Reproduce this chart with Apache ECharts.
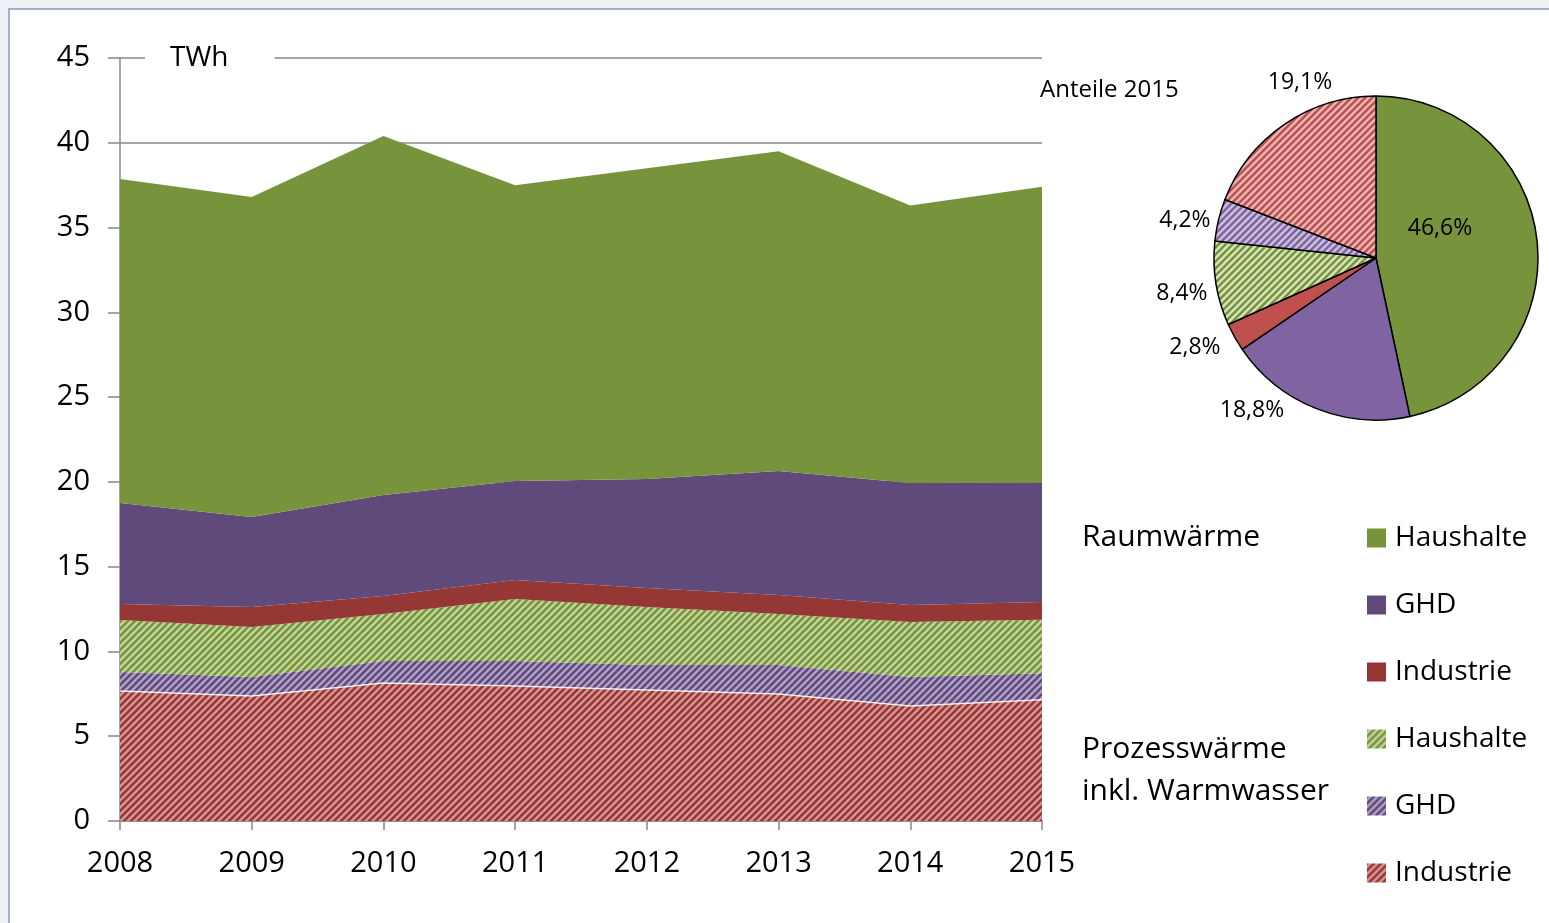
<!DOCTYPE html>
<html>
<head>
<meta charset="utf-8">
<script src="https://cdn.jsdelivr.net/npm/echarts@6/dist/echarts.min.js"></script>
<style>
html,body{margin:0;padding:0;background:#eef1f6;}
#chart{width:1549px;height:923px;}
</style>
</head>
<body>
<div id="chart"></div>
<script>
// ---- data ----
const years = ['2008','2009','2010','2011','2012','2013','2014','2015'];
const yTicks = [0, 5, 10, 15, 20, 25, 30, 35, 40, 45];
const prozessIndustrie = [7.67, 7.37, 8.14, 7.96, 7.73, 7.49, 6.78, 7.15];
const prozessGHD       = [1.12, 1.12, 1.30, 1.48, 1.47, 1.71, 1.71, 1.57];
const prozessHaushalte = [3.06, 2.95, 2.77, 3.65, 3.42, 3.01, 3.25, 3.15];
const raumIndustrie    = [0.95, 1.18, 1.06, 1.12, 1.12, 1.12, 1.00, 1.05];
const raumGHD          = [5.95, 5.31, 5.96, 5.84, 6.43, 7.31, 7.19, 7.04];
const raumHaushalte    = [19.11, 18.87, 21.17, 17.45, 18.33, 18.86, 16.37, 17.45];
const pieNames  = ['Haushalte (Raumwärme)', 'GHD (Raumwärme)', 'Industrie (Raumwärme)',
                   'Haushalte (Prozesswärme)', 'GHD (Prozesswärme)', 'Industrie (Prozesswärme)'];
const pieShares = [46.6, 18.8, 2.8, 8.4, 4.2, 19.1];

// ---- styles ----
const FONT = '"Open Sans", sans-serif';
function hatch(bg, fg) {
  const s = 7;
  const c = document.createElement('canvas');
  c.width = s; c.height = s;
  const g = c.getContext('2d');
  g.fillStyle = bg; g.fillRect(0, 0, s, s);
  g.strokeStyle = fg; g.lineWidth = 2.6;
  g.beginPath();
  g.moveTo(-1, s + 1); g.lineTo(s + 1, -1);
  g.moveTo(-s / 2 - 1, s / 2 + 1); g.lineTo(s / 2 + 1, -s / 2 - 1);
  g.moveTo(s / 2 - 1, s * 1.5 + 1); g.lineTo(s * 1.5 + 1, s / 2 - 1);
  g.stroke();
  return { image: c, repeat: 'repeat' };
}
const C = {
  rHH: '#77933C', rGHD: '#604A7B', rInd: '#953735',
  pHH: hatch('#C3D69B', '#77933C'),
  pGHD: hatch('#B3A2C7', '#604A7B'),
  pInd: hatch('#D99694', '#953735')
};
const PC = [
  '#77933C', '#8064A2', '#C0504D',
  hatch('#D7E4BD', '#77933C'),
  hatch('#CCC1DA', '#8064A2'),
  hatch('#E6B9B8', '#C0504D')
];
const pieLabelPos = [[1440, 228], [1252, 410], [1195, 347], [1182, 293], [1185, 220], [1300, 82]];

function areaSeries(name, data, color, line) {
  return {
    name: name, type: 'line', stack: 'total', data: data,
    showSymbol: false, symbol: 'none',
    lineStyle: line || { width: 0 },
    areaStyle: { color: color, opacity: 1 },
    itemStyle: { color: color },
    emphasis: { disabled: true },
    z: 2
  };
}

const chart = echarts.init(document.getElementById('chart'), null, { renderer: 'canvas' });
chart.setOption({
  backgroundColor: '#eef1f6',
  animation: false,
  textStyle: { fontFamily: FONT },
  graphic: [
    { type: 'rect', z: -10, shape: { x: 9, y: 9, width: 1560, height: 940 },
      style: { fill: '#ffffff', stroke: '#9fb0c8', lineWidth: 2 } },
    { type: 'text', left: 1082, top: 522, z: 10,
      style: { text: 'Raumwärme', font: '30px ' + FONT, fill: '#000' } },
    { type: 'text', left: 1082, top: 728, z: 10,
      style: { text: 'Prozesswärme\ninkl. Warmwasser', font: '30px ' + FONT, fill: '#000', lineHeight: 42 } },
    { type: 'text', left: 1040, top: 78, z: 10,
      style: { text: 'Anteile 2015', font: '24px ' + FONT, fill: '#000' } }
  ],
  grid: { left: 120, right: 507, top: 58, bottom: 102, containLabel: false },
  xAxis: {
    type: 'category', data: years, boundaryGap: false,
    axisLine: { lineStyle: { color: '#888', width: 1.5 } },
    axisTick: { show: true, alignWithLabel: true, length: 9, lineStyle: { color: '#888', width: 1.5 } },
    axisLabel: { color: '#000', fontSize: 29, fontFamily: FONT, margin: 28 },
    splitLine: { show: false }
  },
  yAxis: {
    type: 'value', min: 0, max: 45, interval: 5,
    name: '{gap|}{b|TWh}',
    nameLocation: 'end', nameGap: 0,
    nameTextStyle: {
      align: 'left', verticalAlign: 'middle',
      rich: {
        gap: { width: 25 },
        b: { backgroundColor: '#fff', padding: [6, 46, 6, 25], fontSize: 28, fontFamily: FONT, color: '#000' }
      }
    },
    axisLine: { show: true, lineStyle: { color: '#888', width: 1.5 } },
    axisTick: { show: true, length: 12, lineStyle: { color: '#888', width: 1.5 } },
    axisLabel: { color: '#000', fontSize: 29, fontFamily: FONT, margin: 30,
      formatter: function (v) { return yTicks.indexOf(v) >= 0 ? String(v) : ''; } },
    splitLine: { show: true, lineStyle: { color: '#888', width: 1.5 } }
  },
  legend: {
    orient: 'vertical', left: 1362, top: 519,
    itemWidth: 19, itemHeight: 19, itemGap: 39,
    icon: 'rect',
    textStyle: { fontSize: 28, fontFamily: FONT, color: '#000', lineHeight: 28, padding: [0, 0, 0, 4] },
    formatter: function (n) { return n.split(' (')[0]; },
    data: [
      { name: 'Haushalte (Raumwärme)', itemStyle: { color: C.rHH } },
      { name: 'GHD (Raumwärme)', itemStyle: { color: C.rGHD } },
      { name: 'Industrie (Raumwärme)', itemStyle: { color: C.rInd } },
      { name: 'Haushalte (Prozesswärme)', itemStyle: { color: C.pHH } },
      { name: 'GHD (Prozesswärme)', itemStyle: { color: C.pGHD } },
      { name: 'Industrie (Prozesswärme)', itemStyle: { color: C.pInd } }
    ],
    selectedMode: false
  },
  series: [
    areaSeries('Industrie (Prozesswärme)', prozessIndustrie, C.pInd, { width: 1.5, color: 'rgba(255,255,255,0.85)' }),
    areaSeries('GHD (Prozesswärme)', prozessGHD, C.pGHD),
    areaSeries('Haushalte (Prozesswärme)', prozessHaushalte, C.pHH),
    areaSeries('Industrie (Raumwärme)', raumIndustrie, C.rInd),
    areaSeries('GHD (Raumwärme)', raumGHD, C.rGHD),
    areaSeries('Haushalte (Raumwärme)', raumHaushalte, C.rHH),
    {
      type: 'pie', center: [1376, 258], radius: 162, startAngle: 90, clockwise: true,
      silent: true, z: 5, avoidLabelOverlap: false,
      data: pieNames.map(function (n, i) {
        const d = { name: n, value: pieShares[i], itemStyle: { color: PC[i] } };
        if (i === 0) d.label = { position: 'inside' };
        return d;
      }),
      itemStyle: { borderColor: '#000', borderWidth: 1.5 },
      label: {
        show: true, position: 'outside', color: '#000', fontSize: 23, fontFamily: FONT,
        formatter: function (p) { return p.value.toFixed(1).replace('.', ',') + '%'; }
      },
      labelLine: { show: false },
      labelLayout: function (p) {
        const q = pieLabelPos[p.dataIndex];
        return { x: q[0], y: q[1], align: 'center', verticalAlign: 'middle', hideOverlap: false };
      },
      emphasis: { disabled: true }
    }
  ]
});
</script>
</body>
</html>
